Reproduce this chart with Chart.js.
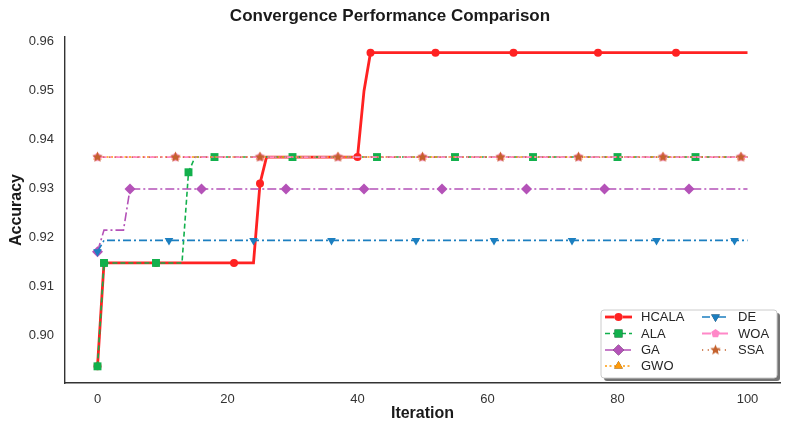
<!DOCTYPE html>
<html>
<head>
<meta charset="utf-8">
<script src="https://cdn.jsdelivr.net/npm/chart.js@4.4.1/dist/chart.umd.min.js"></script>
<style>
  html, body { margin: 0; padding: 0; background: #fff; }
  #wrap { width: 786px; height: 426px; }
</style>
</head>
<body>
<div id="wrap"><canvas id="chart" width="786" height="426"></canvas></div>
<script>
// iteration where the best accuracy changes, and the value held from that iteration on
const hcalaSteps = [0, 1, 25, 26, 41, 42];
const hcalaValues = [0.8937, 0.9148, 0.9310, 0.9364, 0.9499, 0.9577];
const alaSteps = [0, 1, 14, 15];
const alaValues = [0.8937, 0.9148, 0.9333, 0.9364];
const gaSteps = [0, 1, 5];
const gaValues = [0.9171, 0.9215, 0.9299];
const gwoSteps = [0];
const gwoValues = [0.9364];
const deSteps = [0, 1];
const deValues = [0.9171, 0.9194];
const woaSteps = [0];
const woaValues = [0.9364];
const ssaSteps = [0];
const ssaValues = [0.9364];

// iterations that carry a marker
const hcalaMarkers = [0, 1, 9, 21, 25, 40, 42, 52, 64, 77, 89];
const alaMarkers = [0, 1, 9, 14, 18, 30, 43, 55, 67, 80, 92];
const gaMarkers = [0, 5, 16, 29, 41, 53, 66, 78, 91];
const gwoMarkers = [0, 12, 25, 37, 50, 62, 74, 87, 99];
const deMarkers = [0, 11, 24, 36, 49, 61, 73, 86, 98];
const woaMarkers = [0, 12, 25, 37, 50, 62, 74, 87, 99];
const ssaMarkers = [0, 12, 25, 37, 50, 62, 74, 87, 99];

const lastIteration = 100;
const xTicks = [0, 20, 40, 60, 80, 100];
const yTicks = [0.90, 0.91, 0.92, 0.93, 0.94, 0.95, 0.96];

// best-so-far curve: hold each value until the next change
function expandSteps(steps, values) {
  const pts = [];
  let k = 0;
  for (let it = 0; it <= lastIteration; it++) {
    while (k + 1 < steps.length && steps[k + 1] <= it) k++;
    pts.push({ x: it, y: values[k] });
  }
  return pts;
}

function radii(points, markers, r) {
  return points.map((p) => (markers.includes(p.x) ? r : 0));
}

// filled star / pentagon markers (Chart.js has no filled ones)
function polyMarker(color, r, n, inner) {
  const size = Math.ceil(r * 2 + 2);
  const c = document.createElement("canvas");
  c.width = size;
  c.height = size;
  const g = c.getContext("2d");
  g.translate(size / 2, size / 2);
  g.beginPath();
  const count = inner ? n * 2 : n;
  for (let i = 0; i < count; i++) {
    const a = -Math.PI / 2 + (i * Math.PI * 2) / count;
    const rr = inner && i % 2 === 1 ? r * inner : r;
    const px = Math.cos(a) * rr;
    const py = Math.sin(a) * rr;
    if (i === 0) g.moveTo(px, py);
    else g.lineTo(px, py);
  }
  g.closePath();
  g.fillStyle = color;
  g.fill();
  return c;
}

const colors = {
  hcala: "#ff2222",
  ala: "#12b04c",
  ga: "#b452b8",
  gwo: "#ff9a0a",
  de: "#1c7fc0",
  woa: "#ff88c8",
  ssa: "#c4612c",
};

const starImg = polyMarker(colors.ssa, 5.5, 5, 0.45);
const pentImg = polyMarker(colors.woa, 4.5, 5, 0);

function makeDataset(label, steps, values, markers, color, opts) {
  const pts = expandSteps(steps, values);
  return Object.assign(
    {
      label: label,
      data: pts,
      borderColor: color,
      backgroundColor: color,
      pointBackgroundColor: color,
      pointBorderColor: color,
      pointBorderWidth: 0,
      borderWidth: 1.6,
      tension: 0,
      fill: false,
      pointRadius: radii(pts, markers, opts.r || 4),
      pointHoverRadius: radii(pts, markers, opts.r || 4),
    },
    opts.extra
  );
}

const datasets = [
  makeDataset("HCALA", hcalaSteps, hcalaValues, hcalaMarkers, colors.hcala, {
    r: 4,
    extra: { borderWidth: 2.8, pointStyle: "circle", order: 7 },
  }),
  makeDataset("ALA", alaSteps, alaValues, alaMarkers, colors.ala, {
    r: 5.6,
    extra: { borderDash: [5, 3], pointStyle: "rect", order: 6 },
  }),
  makeDataset("GA", gaSteps, gaValues, gaMarkers, colors.ga, {
    r: 5.5,
    extra: { borderDash: [9, 3, 2, 3], pointStyle: "rectRot", order: 5 },
  }),
  makeDataset("GWO", gwoSteps, gwoValues, gwoMarkers, colors.gwo, {
    r: 5,
    extra: { borderDash: [2, 2.5], pointStyle: "triangle", order: 4 },
  }),
  makeDataset("DE", deSteps, deValues, deMarkers, colors.de, {
    r: 5,
    extra: { borderDash: [8, 3, 2, 3], pointStyle: "triangle", rotation: 180, order: 3 },
  }),
  makeDataset("WOA", woaSteps, woaValues, woaMarkers, colors.woa, {
    r: 4.5,
    extra: { borderDash: [9, 3, 2, 3], borderWidth: 1.8, pointStyle: pentImg, order: 2 },
  }),
  makeDataset("SSA", ssaSteps, ssaValues, ssaMarkers, colors.ssa, {
    r: 5.5,
    extra: { borderDash: [1.2, 4.5], borderWidth: 1.3, pointStyle: starImg, order: 1 },
  }),
];

// legend in two columns with a drop shadow, like the original
const boxLegend = {
  id: "boxLegend",
  afterDraw(chart) {
    const ctx = chart.ctx;
    const ds = chart.data.datasets;
    const bx = 601, by = 310, bw = 176, bh = 68;
    ctx.save();
    ctx.fillStyle = "rgba(0,0,0,0.55)";
    ctx.beginPath();
    ctx.roundRect(bx + 3, by + 3, bw, bh, 3);
    ctx.fill();
    ctx.fillStyle = "#ffffff";
    ctx.strokeStyle = "#cccccc";
    ctx.lineWidth = 1;
    ctx.beginPath();
    ctx.roundRect(bx, by, bw, bh, 3);
    ctx.fill();
    ctx.stroke();

    const cols = [[0, 1, 2, 3], [4, 5, 6]];
    const colX = [605, 702];
    const rowY = [317, 333.5, 350, 366];
    ctx.font = "13px 'Liberation Sans', Arial, sans-serif";
    ctx.textBaseline = "middle";
    cols.forEach((col, ci) => {
      col.forEach((di, ri) => {
        const d = ds[di];
        const x = colX[ci];
        const y = rowY[ri];
        ctx.save();
        ctx.strokeStyle = d.borderColor;
        ctx.lineWidth = d.borderWidth;
        ctx.setLineDash(d.borderDash || []);
        ctx.beginPath();
        ctx.moveTo(x, y);
        ctx.lineTo(x + 27, y);
        ctx.stroke();
        ctx.setLineDash([]);
        const r = Math.max.apply(null, d.pointRadius);
        Chart.helpers.drawPoint(
          ctx,
          {
            pointStyle: d.pointStyle,
            rotation: d.rotation || 0,
            radius: r,
            borderWidth: 0,
          },
          x + 13.5,
          y
        );
        ctx.fillStyle = d.backgroundColor;
        ctx.fill();
        ctx.restore();
        ctx.fillStyle = "#262626";
        ctx.fillText(d.label, x + 36, y + 0.5);
      });
    });
    ctx.restore();
  },
};

const tickFont = { family: "'Liberation Sans', Arial, sans-serif", size: 13 };
const labelFont = { family: "'Liberation Sans Narrow', 'Liberation Sans', Arial, sans-serif", size: 16, weight: "bold" };

new Chart(document.getElementById("chart").getContext("2d"), {
  type: "line",
  data: { datasets: datasets },
  options: {
    responsive: false,
    animation: false,
    events: [],
    layout: { padding: { left: 0, right: 6, top: 0, bottom: 0 } },
    plugins: {
      legend: { display: false },
      tooltip: { enabled: false },
      title: {
        display: true,
        text: "Convergence Performance Comparison",
        color: "#1a1a1a",
        font: { family: "'Liberation Sans Narrow', 'Liberation Sans', Arial, sans-serif", size: 17, weight: "bold", lineHeight: 1.2 },
        padding: { top: 6, bottom: 10.6 },
      },
    },
    scales: {
      x: {
        type: "linear",
        min: -5,
        max: 105,
        grid: { display: false, drawTicks: false },
        border: { display: true, color: "#333333", width: 1.4 },
        ticks: { color: "#333333", font: tickFont, padding: 9 },
        afterBuildTicks: (axis) => {
          axis.ticks = xTicks.map((v) => ({ value: v }));
        },
        afterFit: (axis) => {
          axis.height = 43;
        },
        title: {
          display: true,
          text: "Iteration",
          color: "#1a1a1a",
          font: labelFont,
          padding: { top: 0, bottom: 3 },
        },
      },
      y: {
        type: "linear",
        min: 0.8903,
        max: 0.9609,
        grid: { display: false, drawTicks: false },
        border: { display: true, color: "#333333", width: 1.4 },
        ticks: {
          color: "#333333",
          font: tickFont,
          padding: 11,
          callback: (v) => v.toFixed(2),
        },
        afterBuildTicks: (axis) => {
          axis.ticks = yTicks.map((v) => ({ value: v }));
        },
        afterFit: (axis) => {
          axis.width = 65;
        },
        title: {
          display: true,
          text: "Accuracy",
          color: "#1a1a1a",
          font: labelFont,
          padding: { top: 7, bottom: 0 },
        },
      },
    },
  },
  plugins: [boxLegend],
});
</script>
</body>
</html>
